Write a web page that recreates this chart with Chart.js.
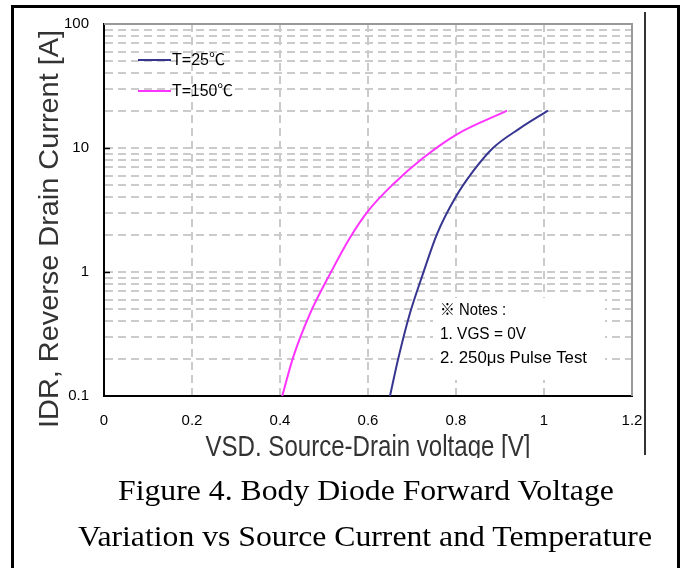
<!DOCTYPE html>
<html>
<head>
<meta charset="utf-8">
<title>Body Diode Forward Voltage</title>
<script src="https://cdn.jsdelivr.net/npm/chart.js@4.4.0/dist/chart.umd.min.js"></script>
<style>
    body { margin: 0; background: #fff; }
    #wrap { position: relative; width: 685px; height: 568px; overflow: hidden; background: #fff; }
    #myChart { position: absolute; left: 0; top: 0; }
    .bar { position: absolute; background: #000; }
    .caption {
        position: absolute; left: 0; white-space: nowrap;
        font-family: "Liberation Serif", "Times New Roman", serif;
        font-size: 30px; line-height: 30px; color: #000;
        transform-origin: left top;
    }
</style>
</head>
<body>
<div id="wrap">
    <canvas id="myChart" width="685" height="568"></canvas>
    <div class="bar" style="left:11px;top:5px;width:669px;height:3px"></div>
    <div class="bar" style="left:11px;top:5px;width:3px;height:563px"></div>
    <div class="bar" style="left:677px;top:5px;width:3px;height:563px"></div>
    <div class="bar" style="left:644px;top:12px;width:2px;height:443px;background:#333"></div>
    <div class="caption" id="cap1">Figure 4. Body Diode Forward Voltage</div>
    <div class="caption" id="cap2">Variation vs Source Current and Temperature</div>
</div>
<script>
// values
const xTicks = [0, 0.2, 0.4, 0.6, 0.8, 1, 1.2];
const yGrid = [0.1, 0.2, 0.3, 0.4, 0.5, 0.6, 0.7, 0.8, 0.9,
               1, 2, 3, 4, 5, 6, 7, 8, 9,
               10, 20, 30, 40, 50, 60, 70, 80, 90, 100];
const yLabels = [0.1, 1, 10, 100];

const seriesNames = ['T=25℃', 'T=150℃'];
const vsd25 = [0.65, 0.668, 0.695, 0.725, 0.757, 0.798, 0.839, 0.884, 0.945, 1.009];
const idr25 = [0.1, 0.195, 0.46, 0.97, 2.03, 3.95, 6.5, 10, 14.4, 20];
const vsd150 = [0.405, 0.43, 0.468, 0.514, 0.559, 0.6, 0.657, 0.725, 0.802, 0.916];
const idr150 = [0.1, 0.206, 0.46, 0.97, 1.89, 3.1, 5.1, 8.3, 12.9, 20];

const notes = ['※ Notes :', '1. VGS = 0V', '2. 250μs Pulse Test'];
const xTitle = 'VSD. Source-Drain voltage [V]';
const yTitle = 'IDR, Reverse Drain Current [A]';

function hasFont(name) {
    const c = document.createElement('canvas').getContext('2d');
    const s = 'abcdefghijklmnop 0123456789';
    c.font = '20px monospace';
    const a = c.measureText(s).width;
    c.font = '20px "' + name + '", monospace';
    return c.measureText(s).width !== a;
}

const narrow = hasFont('Liberation Sans Narrow');
const smallFamily = (narrow ? '"Liberation Sans Narrow", ' : '') + '"Liberation Sans", "Noto Sans CJK JP", sans-serif';
const tickSize = narrow ? 16 : 15;

function points(xs, ys) {
    return xs.map((x, i) => ({x: x, y: ys[i]}));
}

// draw text squeezed/stretched to a given width
function fitText(ctx, text, x, y, width, align) {
    const w = ctx.measureText(text).width;
    ctx.save();
    ctx.translate(x, y);
    ctx.scale(width / w, 1);
    ctx.textAlign = align || 'left';
    ctx.fillText(text, 0, 0);
    ctx.restore();
}

const decor = {
    id: 'decor',
    beforeDatasetsDraw(chart) {
        const ctx = chart.ctx, a = chart.chartArea;
        // white box behind the notes
        ctx.save();
        ctx.fillStyle = '#fff';
        ctx.fillRect(a.left + 329, a.top + 274, 172, 82);
        ctx.restore();
    },
    afterDraw(chart) {
        const ctx = chart.ctx, a = chart.chartArea;
        const ys = chart.scales.y;
        ctx.save();

        // top and right frame
        ctx.strokeStyle = '#999';
        ctx.lineWidth = 2;
        ctx.beginPath();
        ctx.moveTo(a.left, a.top);
        ctx.lineTo(a.right, a.top);
        ctx.lineTo(a.right, a.bottom);
        ctx.stroke();

        // small inner ticks on the decades
        ctx.strokeStyle = '#000';
        ctx.lineWidth = 1.5;
        yLabels.slice(1, 3).forEach(v => {
            const py = Math.round(ys.getPixelForValue(v)) + 0.5;
            ctx.beginPath();
            ctx.moveTo(a.left, py);
            ctx.lineTo(a.left + 6, py);
            ctx.stroke();
        });

        // legend
        ctx.font = '16px ' + smallFamily;
        ctx.textBaseline = 'middle';
        ctx.fillStyle = '#000';
        const widths = [53, 61];
        chart.data.datasets.forEach((ds, i) => {
            const ly = a.top + 36 + i * 31;
            ctx.strokeStyle = ds.borderColor;
            ctx.lineWidth = 2;
            ctx.beginPath();
            ctx.moveTo(a.left + 34, ly);
            ctx.lineTo(a.left + 67, ly);
            ctx.stroke();
            fitText(ctx, ds.label, a.left + 68, ly + 1, widths[i]);
        });

        // notes
        ctx.font = '16px ' + smallFamily;
        const noteW = [66, 86, 147];
        notes.forEach((t, i) => {
            fitText(ctx, t, a.left + 336, a.top + 287 + i * 24, noteW[i]);
        });

        // axis titles
        ctx.fillStyle = '#333';
        ctx.textBaseline = 'alphabetic';
        ctx.font = '28px "Liberation Sans", Arial, sans-serif';
        ctx.save();
        ctx.translate(58, 229);
        ctx.rotate(-Math.PI / 2);
        fitText(ctx, yTitle, 0, 0, 398, 'center');
        ctx.restore();

        ctx.save();
        ctx.beginPath();
        ctx.rect(60, a.bottom + 25, 560, 458 - a.bottom - 25);
        ctx.clip();
        ctx.font = '29px "Liberation Sans", Arial, sans-serif';
        fitText(ctx, xTitle, (a.left + a.right) / 2, 456, 325, 'center');
        ctx.restore();

        ctx.restore();
    }
};

const gridColor = (edges) => (c) => edges.includes(c.tick.value) ? 'rgba(0,0,0,0)' : '#cbcbcb';

const ctx = document.getElementById('myChart').getContext('2d');
const myChart = new Chart(ctx, {
    type: 'line',
    data: {
        datasets: [{
                label: seriesNames[0],
                data: points(vsd25, idr25),
                borderColor: '#363690',
                borderWidth: 2,
                pointRadius: 0,
                cubicInterpolationMode: 'monotone',
                fill: false
            }, {
                label: seriesNames[1],
                data: points(vsd150, idr150),
                borderColor: '#ff33ff',
                borderWidth: 2,
                pointRadius: 0,
                cubicInterpolationMode: 'monotone',
                fill: false
            }]
    },
    options: {
        responsive: false,
        animation: false,
        devicePixelRatio: 1,
        layout: {
            padding: {top: 22, right: 53, left: 0, bottom: 0}
        },
        plugins: {
            legend: {display: false},
            tooltip: {enabled: false}
        },
        scales: {
            x: {
                type: 'linear',
                min: 0,
                max: 1.2,
                afterBuildTicks: (s) => { s.ticks = xTicks.map(v => ({value: v})); },
                afterFit: (s) => { s.height = 172; },
                ticks: {
                    autoSkip: false,
                    maxRotation: 0,
                    padding: 25 - tickSize * 0.6,
                    color: '#000',
                    font: {family: smallFamily, size: tickSize},
                    callback: (v) => String(v)
                },
                grid: {
                    color: gridColor([0, 1.2]),
                    lineWidth: 2,
                    drawTicks: false
                },
                border: {color: '#000', width: 2, dash: [8, 5]}
            },
            y: {
                type: 'logarithmic',
                min: 0.1,
                max: 100,
                afterBuildTicks: (s) => { s.ticks = yGrid.map(v => ({value: v})); },
                afterFit: (s) => { s.width = 104; },
                ticks: {
                    autoSkip: false,
                    padding: 15,
                    color: '#000',
                    font: {family: smallFamily, size: tickSize},
                    callback: (v) => yLabels.includes(v) ? String(v) : ''
                },
                grid: {
                    color: gridColor([0.1, 100]),
                    lineWidth: 2,
                    drawTicks: false
                },
                border: {color: '#000', width: 2, dash: [8, 5]}
            }
        }
    },
    plugins: [decor]
});

// caption lines fitted to the measured widths
function placeCaption(id, left, baseline, width) {
    const el = document.getElementById(id);
    el.style.left = left + 'px';
    el.style.top = (baseline - 25) + 'px';
    el.style.transform = 'scaleX(' + (width / el.offsetWidth) + ')';
}
placeCaption('cap1', 118, 500, 496);
placeCaption('cap2', 78, 546, 574);
</script>
</body>
</html>
